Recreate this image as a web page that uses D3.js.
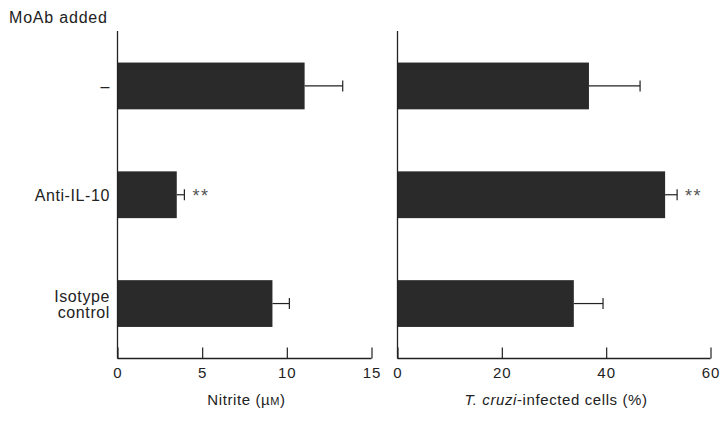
<!DOCTYPE html>
<html><head><meta charset="utf-8">
<script src="https://cdn.jsdelivr.net/npm/d3@7"></script>
<style>body{margin:0;background:#fff}svg{display:block}text{font-family:"Liberation Sans",Arial,sans-serif;fill:#222}</style>
</head><body>
<svg id="c" width="728" height="424"></svg>
<script>
const categories = ["–", "Anti-IL-10", "Isotype control"];
const nitrite = [11.05, 3.5, 9.15];
const nitriteErr = [13.3, 3.95, 10.15];
const infected = [36.7, 51.3, 33.8];
const infectedErr = [46.5, 53.6, 39.4];
const signif = ["", "**", ""];
const nitriteTicks = [0, 5, 10, 15];
const infectedTicks = [0, 20, 40, 60];

const svg = d3.select("#c");
const y = d3.scaleBand().domain(categories).range([31, 358.5]).paddingInner(0.57).paddingOuter(0.29);

function panel(x0, x1, maxV, vals, errs, ticks, titleFn) {
  const x = d3.scaleLinear().domain([0, maxV]).range([x0, x1]);
  const g = svg.append("g");
  g.selectAll("rect.bar").data(vals).join("rect")
    .attr("x", x(0)).attr("y", (d, i) => y(categories[i]))
    .attr("width", d => x(d) - x(0)).attr("height", y.bandwidth())
    .attr("fill", "#2a2a2a");
  const cy = i => y(categories[i]) + y.bandwidth() / 2;
  g.selectAll("line.err").data(errs).join("line")
    .attr("x1", (d, i) => x(vals[i])).attr("x2", d => x(d))
    .attr("y1", (d, i) => cy(i)).attr("y2", (d, i) => cy(i))
    .attr("stroke", "#222").attr("stroke-width", 1.2);
  g.selectAll("line.cap").data(errs).join("line")
    .attr("x1", d => x(d)).attr("x2", d => x(d))
    .attr("y1", (d, i) => cy(i) - 5.5).attr("y2", (d, i) => cy(i) + 5.5)
    .attr("stroke", "#222").attr("stroke-width", 1.2);
  g.selectAll("text.sig").data(signif).join("text")
    .attr("x", (d, i) => x(errs[i]) + 8).attr("y", (d, i) => cy(i) + 7)
    .attr("font-size", 18).style("fill", "#555").attr("letter-spacing", 1.5)
    .text(d => d);
  const ax = g.append("g").attr("transform", "translate(0,358.5)")
    .call(d3.axisBottom(x).tickValues(ticks).tickSize(-11).tickPadding(8).tickFormat(d3.format("d")));
  ax.select(".domain").attr("stroke", "#222").attr("stroke-width", 1.3).attr("d", `M${x0},0H${x1}`);
  ax.selectAll(".tick line").attr("stroke", "#222").attr("stroke-width", 1.2);
  ax.selectAll(".tick text").attr("font-size", 15).attr("letter-spacing", 1).attr("dy", 0).attr("y", 19)
    .attr("font-family", "Liberation Sans, Arial, sans-serif").style("fill", "#222");
  g.append("line").attr("x1", x0).attr("x2", x0).attr("y1", 31).attr("y2", 358.5)
    .attr("stroke", "#222").attr("stroke-width", 1.3);
  const t = g.append("text").attr("x", (x0 + x1) / 2 + 2).attr("y", 405)
    .attr("text-anchor", "middle").attr("font-size", 15).attr("letter-spacing", 0.6);
  titleFn(t);
  return x;
}

panel(117.5, 371.5, 15, nitrite, nitriteErr, nitriteTicks, t => {
  t.append("tspan").text("Nitrite (µ");
  t.append("tspan").attr("font-size", 11).text("M");
  t.append("tspan").text(")");
});
panel(397.5, 710.5, 60, infected, infectedErr, infectedTicks, t => {
  t.append("tspan").attr("font-style", "italic").text("T. cruzi");
  t.append("tspan").text("-infected cells (%)");
});

svg.selectAll("text.cat").data(categories).join("text")
  .attr("text-anchor", "end").attr("font-size", 16).attr("letter-spacing", 0.6)
  .each(function(d) {
    const cy = y(d) + y.bandwidth() / 2;
    const parts = d.split(" ");
    const sel = d3.select(this);
    if (parts.length === 1) {
      sel.append("tspan").attr("x", 110).attr("y", cy + 6).text(d);
    } else {
      parts.forEach((p, j) => sel.append("tspan").attr("x", 110).attr("y", cy - 2 + j * 16).text(p));
    }
  });

svg.append("text").attr("x", 9).attr("y", 23).attr("font-size", 16).attr("letter-spacing", 0.8).text("MoAb added");
</script>
</body></html>
